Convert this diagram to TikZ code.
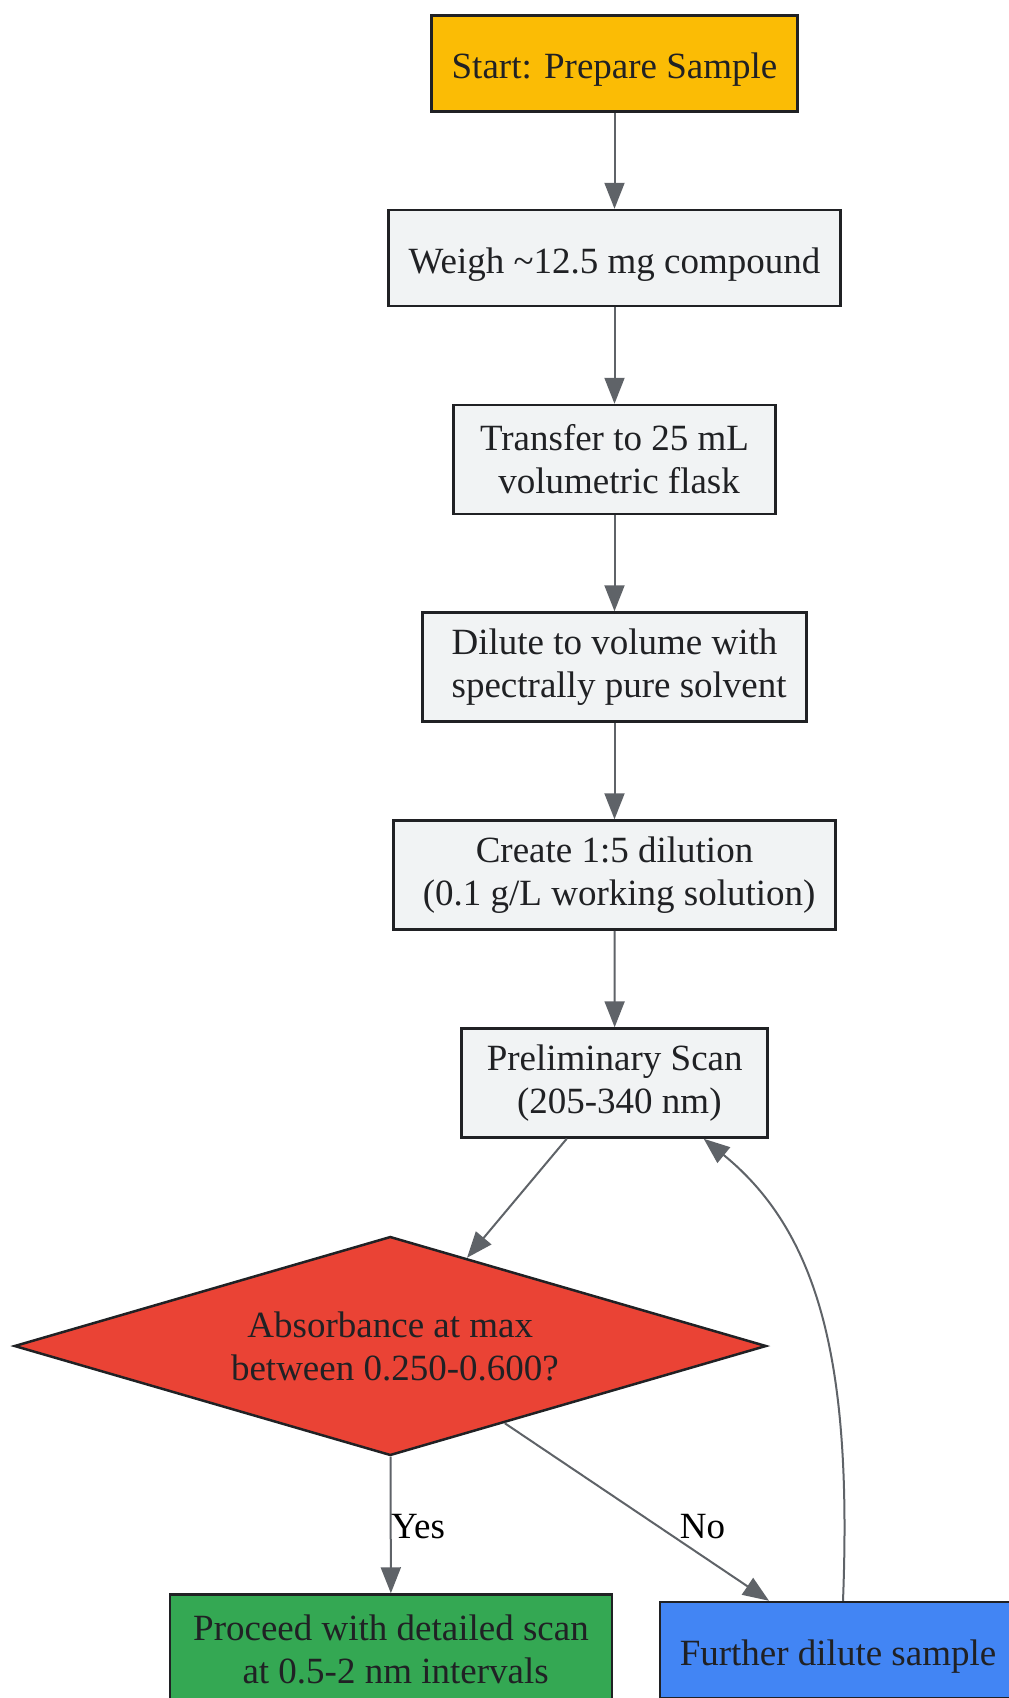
\documentclass[tikz,border=0pt]{standalone}
\usepackage{fontspec}
\setmainfont{Liberation Serif}
\usepackage{xcolor}
\usetikzlibrary{shapes.geometric, arrows.meta}

\definecolor{ink}{HTML}{202124}
\definecolor{edgegray}{HTML}{5F6368}
\definecolor{startfill}{HTML}{FBBC05}
\definecolor{stepfill}{HTML}{F1F3F4}
\definecolor{decidefill}{HTML}{EA4335}
\definecolor{yesfill}{HTML}{34A853}
\definecolor{nofill}{HTML}{4285F4}

\begin{document}
\begin{tikzpicture}[x=1pt, y=-1pt,
    font=\fontsize{37}{43}\selectfont,
    stepbox/.style = {draw=ink, line width=2.5pt, fill=stepfill, text=ink, align=center, inner xsep=20pt, minimum height=96pt},
    oneline/.style = {text height=34pt, text depth=4pt},
    tall/.style = {minimum height=109pt},
    decision/.style = {diamond, aspect=3.43, draw=ink, line width=2.5pt, fill=decidefill, text=ink, align=center, inner sep=0pt, minimum width=752pt, minimum height=219pt},
    flow/.style = {draw=edgegray, line width=2pt, -{Triangle[length=26pt, width=20pt]}},
    lbl/.style = {text=black, inner sep=0pt}]
    \useasboundingbox (0,0) rectangle (1009,1698);

    % 节点
    \node[stepbox, oneline, fill=startfill] (start) at (614.5,63.5) {Start: Prepare Sample};
    \node[stepbox, oneline] (weigh) at (614.5,258) {Weigh \textasciitilde12.5 mg compound};
    \node[stepbox, tall, minimum width=322pt] (transfer) at (614.5,459.5) {Transfer to 25 mL\\ \ volumetric flask};
    \node[stepbox, tall] (dilute) at (614.5,667) {Dilute to volume with\\ \ spectrally pure solvent};
    \node[stepbox, tall] (create) at (614.5,875) {Create 1:5 dilution\\ \ (0.1 g/L working solution)};
    \node[stepbox, tall, minimum width=306pt] (prelim) at (614.7,1083) {Preliminary Scan\\ \ (205-340 nm)};
    \node[decision] (decide) at (390.3,1346) {Absorbance at max\\ \ between 0.250-0.600?};
    \node[stepbox, tall, fill=yesfill, minimum width=442pt] (proceed) at (391,1649) {Proceed with detailed scan\\ \ at 0.5-2 nm intervals};
    \node[stepbox, oneline, fill=nofill, minimum width=353pt] (further) at (838,1650) {Further dilute sample};

    % 连线
    \draw[flow] (start) -- (weigh);
    \draw[flow] (weigh) -- (transfer);
    \draw[flow] (transfer) -- (dilute);
    \draw[flow] (dilute) -- (create);
    \draw[flow] (create) -- (prelim);
    \draw[flow] ([xshift=-48pt]prelim.south) -- (decide.49);
    \draw[flow] (decide) -- (proceed);
    \draw[flow] (decide.-34) -- ([xshift=-69pt]further.north);
    \draw[flow] ([xshift=5pt]further.north) .. controls (852,1370) and (822,1235) .. ([xshift=89pt]prelim.south);

    % 标签
    \node[lbl] (yes) at (418,1526.5) {Yes};
    \node[lbl] (no) at (702.6,1526.5) {No};
\end{tikzpicture}
\end{document}
